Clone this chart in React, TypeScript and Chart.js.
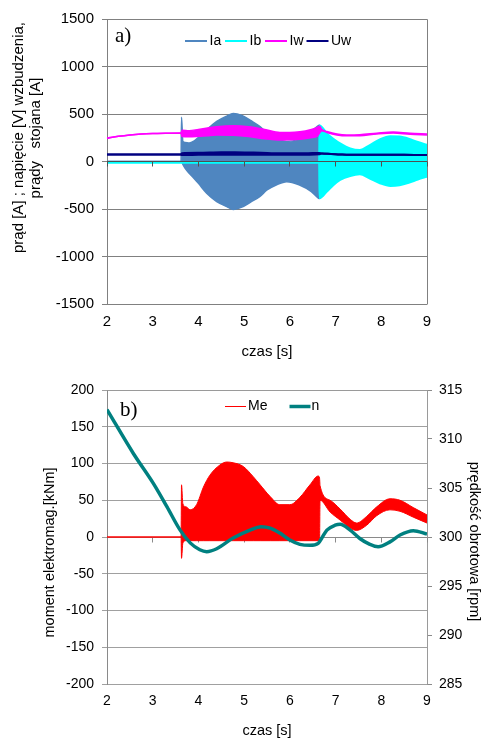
import React, { useEffect, useRef } from 'react';
import { Chart, registerables } from 'chart.js';

Chart.register(...registerables);
Chart.defaults.font.family = '"Liberation Sans", Arial, sans-serif';
Chart.defaults.color = '#000';

// ---------- chart a) : currents and excitation voltage ----------
const legendA = ['Ia', 'Ib', 'Iw', 'Uw'];
const titleAy1 = 'prąd [A] ; napięcie [V] wzbudzenia,';
const titleAy2 = 'prądy   stojana [A]';
const titleX = 'czas [s]';

const iaTime = [2, 3.62, 3.63, 3.66, 3.71, 3.8, 3.9, 4.0, 4.18, 4.4, 4.62, 4.76, 4.95, 5.15, 5.34, 5.5, 5.7, 5.93, 6.2, 6.47, 6.63, 6.65, 6.66, 9];
const iaUpper = [0, 0, 465, 210, 200, 195, 215, 255, 335, 422, 478, 505, 485, 430, 370, 300, 245, 210, 235, 315, 380, 385, 0, 0];
const iaLower = [0, 0, 0, -30, -72, -125, -175, -230, -334, -422, -475, -505, -480, -425, -370, -300, -247, -212, -245, -317, -387, -390, 0, 0];

const ibTime = [2, 6.64, 6.65, 6.81, 6.95, 7.1, 7.32, 7.53, 7.75, 7.97, 8.2, 8.4, 8.6, 8.8, 9];
const ibUpper = [-10, -10, 380, 296, 240, 191, 138, 121, 173, 233, 265, 262, 240, 205, 175];
const ibLower = [-10, -10, -387, -317, -250, -194, -152, -135, -180, -229, -257, -250, -225, -190, -160];

const iwTime = [2, 2.25, 2.5, 2.75, 3.0, 3.3, 3.62, 3.64, 3.8, 4.0, 4.2, 4.4, 4.76, 5.1, 5.45, 5.78, 6.0, 6.22, 6.45, 6.6, 6.65, 6.7, 6.81, 7.03, 7.24, 7.53, 7.9, 8.26, 8.63, 9];
const iwUpper = [245, 265, 280, 290, 295, 298, 300, 330, 325, 338, 352, 366, 376, 366, 338, 306, 305, 313, 335, 360, 370, 335, 316, 290, 280, 282, 298, 310, 297, 290];
const iwLower = [245, 265, 280, 290, 295, 298, 300, 262, 260, 265, 272, 278, 275, 262, 240, 226, 228, 233, 250, 268, 300, 325, 306, 280, 270, 272, 290, 300, 287, 280];

const uwTime = [2, 3.62, 3.64, 4.0, 4.5, 4.8, 5.2, 5.6, 6.0, 6.4, 6.64, 6.7, 6.9, 7.1, 7.3, 8.0, 8.5, 9];
const uwUpper = [75, 75, 88, 92, 98, 98, 94, 88, 86, 88, 90, 85, 80, 74, 70, 72, 72, 68];
const uwLower = [75, 75, 68, 70, 72, 72, 70, 70, 70, 72, 75, 85, 80, 74, 70, 72, 72, 68];

// ---------- chart b) : torque and speed ----------
const legendB = ['Me', 'n'];
const titleBy = 'moment elektromag.[kNm]';
const titleBy2 = 'prędkość obrotowa [rpm]';

const meTime = [2, 3.62, 3.63, 3.66, 3.73, 3.82, 3.96, 4.11, 4.25, 4.47, 4.62, 4.76, 4.98, 5.2, 5.35, 5.57, 5.78, 6.0, 6.22, 6.44, 6.62, 6.65, 6.66, 6.88, 7.1, 7.32, 7.46, 7.68, 7.9, 8.19, 8.41, 8.7, 9];
const meUpper = [0, 0, 71, 45, 41, 37, 44, 68, 84, 98, 102, 101, 96, 82, 71, 55, 44, 44, 54, 71, 83, 80, 70, 50, 38, 24, 19, 28, 41, 52, 50, 40, 30];
const meLower = [0, 0, -29, -8, -5, -5, -5, -5, -5, -5, -5, -5, -5, -5, -5, -5, -5, -5, -5, -5, -5, -4, 50, 34, 23, 12, 9, 16, 29, 37, 35, 27, 19];

const nTime = [2, 2.58, 3.01, 3.31, 3.6, 3.82, 4.03, 4.18, 4.4, 4.76, 5.13, 5.37, 5.57, 5.78, 6.0, 6.22, 6.44, 6.62, 6.7, 6.81, 6.99, 7.1, 7.32, 7.53, 7.75, 7.93, 8.19, 8.41, 8.7, 9];
const nValues = [313, 308.5, 305.5, 303.1, 300.7, 299.4, 298.7, 298.5, 298.8, 299.9, 300.7, 301.05, 300.9, 300.4, 299.7, 299.25, 299.15, 299.35, 299.9, 300.7, 301.2, 301.3, 300.7, 299.85, 299.25, 299.0, 299.5, 300.2, 300.65, 300.3];

// ---------- styles ----------
const IA_COLOR = '#4F86C0';
const IB_COLOR = '#00FFFF';
const IW_COLOR = '#FF00FF';
const UW_COLOR = '#000080';
const ME_COLOR = '#FF0000';
const N_COLOR = '#008080';

const pts = (t: number[], v: number[]) => t.map((x, i) => ({ x, y: v[i] }));
const plain = (v: any) => String(v);

function band(label: string, t: number[], up: number[], lo: number[], color: string, width: number) {
  return [
    { label, data: pts(t, up), borderColor: color, backgroundColor: color, borderWidth: width, fill: '+1', pointRadius: 0, cubicInterpolationMode: 'monotone' },
    { label: label + ' (min)', data: pts(t, lo), borderColor: color, backgroundColor: color, borderWidth: width, fill: false, pointRadius: 0, cubicInterpolationMode: 'monotone' },
  ];
}

const align = (p: number) => Math.round(p - 0.5) + 0.5;

const decor = {
  id: 'decor',
  beforeDatasetsDraw(chart: any, _a: any, o: any) {
    const { ctx, chartArea: ca } = chart;
    ctx.save();
    if (o.frameColor) {
      ctx.strokeStyle = o.frameColor;
      ctx.lineWidth = 1;
      ctx.beginPath();
      ctx.moveTo(align(ca.left), align(ca.top));
      ctx.lineTo(align(ca.right), align(ca.top));
      ctx.lineTo(align(ca.right), align(ca.bottom));
      ctx.stroke();
    }
    if (o.zero && !o.zero.onTop) drawZero(chart, o.zero);
    ctx.restore();
  },
  afterDatasetsDraw(chart: any, _a: any, o: any) {
    if (o.zero && o.zero.onTop) {
      chart.ctx.save();
      drawZero(chart, o.zero);
      chart.ctx.restore();
    }
  },
  afterDraw(chart: any, _a: any, o: any) {
    const { ctx } = chart;
    ctx.save();
    (o.texts || []).forEach((t: any) => {
      ctx.save();
      ctx.translate(t.x, t.y);
      ctx.rotate(t.rot || 0);
      ctx.font = t.font;
      ctx.fillStyle = '#000';
      ctx.textAlign = t.align || 'center';
      ctx.textBaseline = t.baseline || 'middle';
      ctx.fillText(t.text, 0, 0);
      ctx.restore();
    });
    if (o.legend) {
      const L = o.legend;
      ctx.font = L.font;
      ctx.textBaseline = 'middle';
      ctx.textAlign = 'left';
      L.items.forEach((it: any) => {
        ctx.strokeStyle = it.color;
        ctx.lineWidth = it.width;
        ctx.beginPath();
        ctx.moveTo(it.x, L.y);
        ctx.lineTo(it.x + L.lineLength, L.y);
        ctx.stroke();
        ctx.fillStyle = '#000';
        ctx.fillText(it.label, it.x + L.lineLength + (it.gap ?? 2.5), L.y);
      });
    }
    ctx.restore();
  },
};

function drawZero(chart: any, z: any) {
  const { ctx, chartArea: ca, scales } = chart;
  const y0 = align(scales.y.getPixelForValue(0));
  ctx.strokeStyle = z.color;
  ctx.lineWidth = 1;
  ctx.beginPath();
  ctx.moveTo(ca.left, y0);
  ctx.lineTo(ca.right, y0);
  scales.x.ticks.forEach((tk: any) => {
    const x = align(scales.x.getPixelForValue(tk.value));
    ctx.moveTo(x, y0);
    ctx.lineTo(x, y0 + 5);
  });
  ctx.stroke();
}

function configA(): any {
  return {
    type: 'line',
    data: {
      datasets: [
        ...band(legendA[3], uwTime, uwUpper, uwLower, UW_COLOR, 2),
        ...band(legendA[2], iwTime, iwUpper, iwLower, IW_COLOR, 1.5),
        ...band(legendA[1], ibTime, ibUpper, ibLower, IB_COLOR, 2),
        ...band(legendA[0], iaTime, iaUpper, iaLower, IA_COLOR, 1.5),
      ],
    },
    options: {
      responsive: false,
      animation: false,
      events: [],
      layout: { padding: { top: 19, right: 54, left: 0, bottom: 0 } },
      plugins: {
        legend: { display: false },
        tooltip: { enabled: false },
        decor: {
          frameColor: '#808080',
          zero: { color: '#505050', onTop: true },
          texts: [
            { text: titleAy1, x: 19, y: 137.5, rot: -Math.PI / 2, font: '15px "Liberation Sans"' },
            { text: titleAy2, x: 36, y: 138, rot: -Math.PI / 2, font: '15px "Liberation Sans"' },
            { text: 'a)', x: 115, y: 42, align: 'left', baseline: 'alphabetic', font: '21px "Liberation Serif"' },
          ],
          legend: {
            y: 41, lineLength: 22, font: '14px "Liberation Sans"',
            items: [
              { label: legendA[0], color: IA_COLOR, width: 2, x: 185 },
              { label: legendA[1], color: IB_COLOR, width: 2, x: 225 },
              { label: legendA[2], color: IW_COLOR, width: 2, x: 265 },
              { label: legendA[3], color: UW_COLOR, width: 2, x: 306.5 },
            ],
          },
        },
      },
      scales: {
        x: {
          type: 'linear', min: 2, max: 9,
          ticks: { stepSize: 1, padding: 9, font: { size: 15 }, callback: plain },
          grid: { display: false, drawTicks: false },
          border: { display: false },
          title: { display: true, text: titleX, font: { size: 15, lineHeight: 1 }, padding: { top: 0, bottom: 11 } },
          afterFit: (s: any) => { s.height = 66; },
        },
        y: {
          min: -1500, max: 1500,
          ticks: { stepSize: 500, padding: 8, font: { size: 15 }, callback: plain },
          grid: { color: '#808080', tickLength: 5 },
          border: { color: '#808080' },
          afterFit: (s: any) => { s.width = 107; },
        },
      },
    },
    plugins: [decor],
  };
}

function configB(): any {
  return {
    type: 'line',
    data: {
      datasets: [
        { label: legendB[1], data: pts(nTime, nValues), yAxisID: 'y2', borderColor: N_COLOR, backgroundColor: N_COLOR, borderWidth: 3.5, pointRadius: 0, fill: false, cubicInterpolationMode: 'monotone' },
        ...band(legendB[0], meTime, meUpper, meLower, ME_COLOR, 1),
      ],
    },
    options: {
      responsive: false,
      animation: false,
      events: [],
      layout: { padding: { top: 20, right: 0, left: 0, bottom: 0 } },
      plugins: {
        legend: { display: false },
        tooltip: { enabled: false },
        decor: {
          frameColor: '#9a9a9a',
          zero: { color: '#8a8a8a', onTop: false },
          texts: [
            { text: titleBy, x: 50, y: 182.5, rot: -Math.PI / 2, font: '14.5px "Liberation Sans"' },
            { text: titleBy2, x: 474, y: 171.5, rot: Math.PI / 2, font: '14.5px "Liberation Sans"' },
            { text: 'b)', x: 120, y: 46, align: 'left', baseline: 'alphabetic', font: '21px "Liberation Serif"' },
          ],
          legend: {
            y: 36.5, lineLength: 21, font: '14px "Liberation Sans"',
            items: [
              { label: legendB[0], color: ME_COLOR, width: 1, x: 225, gap: 2 },
              { label: legendB[1], color: N_COLOR, width: 3.5, x: 289.5, gap: 1 },
            ],
          },
        },
      },
      scales: {
        x: {
          type: 'linear', min: 2, max: 9,
          ticks: { stepSize: 1, padding: 9, font: { size: 14 }, callback: plain },
          grid: { display: false, drawTicks: false },
          border: { display: false },
          title: { display: true, text: titleX, font: { size: 14.5, lineHeight: 1 }, padding: { top: 0, bottom: 0 } },
          afterFit: (s: any) => { s.height = 54; },
        },
        y: {
          position: 'left', min: -200, max: 200,
          ticks: { stepSize: 50, padding: 8, font: { size: 14 }, callback: plain },
          grid: { color: '#a0a0a0', tickLength: 5 },
          border: { color: '#8a8a8a' },
          afterFit: (s: any) => { s.width = 107; },
        },
        y2: {
          position: 'right', min: 285, max: 315,
          ticks: { stepSize: 5, padding: 7, font: { size: 14 }, callback: plain },
          grid: { drawOnChartArea: false, color: '#8a8a8a', tickLength: 5 },
          border: { color: '#8a8a8a' },
          afterFit: (s: any) => { s.width = 54; },
        },
      },
    },
    plugins: [decor],
  };
}

function ChartCanvas({ make, top, height }: { make: () => any; top: number; height: number }) {
  const ref = useRef<HTMLCanvasElement>(null);
  useEffect(() => {
    const c = new Chart(ref.current as HTMLCanvasElement, make());
    return () => c.destroy();
  }, []);
  return (
    <canvas
      ref={ref}
      width={481}
      height={height}
      style={{ position: 'absolute', left: 0, top, width: 481, height, display: 'block' }}
    />
  );
}

export default function App() {
  return (
    <div style={{ position: 'absolute', left: 0, top: 0, width: 481, height: 738, background: '#fff' }}>
      <ChartCanvas make={configA} top={0} height={370} />
      <ChartCanvas make={configB} top={370} height={368} />
    </div>
  );
}
